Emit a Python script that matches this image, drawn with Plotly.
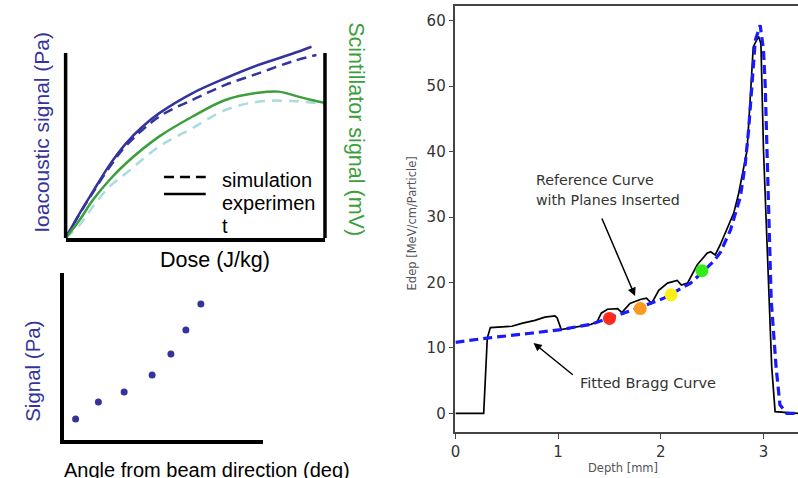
import plotly.graph_objects as go

W, H = 798, 478
def PX(p): return p / W
def PY(p): return 1 - p / H

# ---------------- data ----------------
# top-left: signal vs dose (arbitrary units)
ia_exp_dose = [0, 0.54, 1.05, 1.69, 2.33, 2.96, 3.60, 4.88, 6.16, 7.43, 8.71, 9.48]
ia_exp_sig = [0, 1.33, 2.49, 3.92, 5.09, 5.98, 6.70, 7.78, 8.59, 9.30, 9.89, 10.28]
ia_sim_dose = [0, 0.54, 1.05, 1.69, 2.33, 3.60, 4.88, 6.16, 7.43, 8.71, 9.67]
ia_sim_sig = [0, 1.29, 2.44, 3.80, 4.96, 6.52, 7.42, 8.23, 8.85, 9.48, 9.84]
sc_exp_dose = [0, 0.54, 1.05, 1.69, 2.33, 3.60, 4.88, 6.16, 7.43, 8.20, 8.97, 9.48, 9.99]
sc_exp_sig = [0, 0.97, 2.04, 3.12, 4.02, 5.45, 6.52, 7.42, 7.81, 7.87, 7.60, 7.42, 7.27]
sc_sim_dose = [0, 0.54, 1.05, 1.69, 2.33, 3.60, 4.88, 6.16, 7.43, 8.71, 9.99]
sc_sim_sig = [0, 0.70, 1.68, 2.76, 3.48, 4.91, 5.90, 6.88, 7.33, 7.37, 7.20]

# bottom-left: signal vs angle (arbitrary units)
angle = [0.60, 1.74, 3.03, 4.43, 5.37, 6.12, 6.87]
angle_sig = [1.26, 2.28, 2.87, 3.89, 5.15, 6.59, 8.14]

# right: Bragg curves
ref_depth = [0, 0.275, 0.31, 0.34, 0.55, 0.645, 0.774, 0.871, 0.968, 0.99, 1.03,
             1.16, 1.32, 1.38, 1.42, 1.48, 1.58, 1.62, 1.70, 1.80, 1.86, 1.91,
             1.98, 2.065, 2.16, 2.20, 2.26, 2.355, 2.45, 2.485, 2.53, 2.58,
             2.613, 2.71, 2.758, 2.806, 2.84, 2.87, 2.90, 2.952, 2.975, 3.0,
             3.055, 3.08, 3.113, 3.336]
ref_edep = [0, 0, 11.5, 13.1, 13.3, 13.75, 14.2, 14.7, 14.9, 14.6, 12.8,
            13.2, 13.6, 14.0, 15.3, 15.9, 16.0, 15.4, 16.8, 17.4, 17.6, 16.8,
            18.8, 19.9, 20.3, 19.6, 19.9, 22.7, 24.45, 24.7, 24.2, 25.8,
            27.0, 30.6, 33.6, 37.2, 40.2, 47.9, 56.0, 57.6, 56.5, 40.2,
            17.3, 7.1, 0.25, 0]
fit_depth = [0, 0.31, 0.71, 1.03, 1.32, 1.55, 1.80, 2.03, 2.29, 2.40, 2.52,
             2.58, 2.678, 2.775, 2.823, 2.855, 2.888, 2.92, 2.968, 3.0, 3.016,
             3.033, 3.075, 3.123, 3.16, 3.226, 3.336]
fit_edep = [10.85, 11.5, 12.2, 12.8, 13.6, 14.8, 16.2, 17.6, 19.9, 21.5, 23.3,
            24.6, 28.0, 33.1, 38.2, 43.3, 50.4, 57.0, 59.3, 55.5, 50.4,
            40.2, 17.3, 7.0, 1.3, 0, 0]
plane_depth = [1.50, 1.80, 2.10, 2.40]
plane_edep = [14.5, 16.0, 18.1, 21.8]
plane_colors = ["#ff2a1a", "#f89a1e", "#ffee14", "#33ee14"]

BLUE = "#34349c"
GREEN = "#3c9e3c"
LBLUE = "#aadcdc"
SANS = "Liberation Sans, Arial, sans-serif"
DV = "DejaVu Sans, sans-serif"

fig = go.Figure()

# top-left traces
fig.add_trace(go.Scatter(x=sc_sim_dose, y=sc_sim_sig, mode="lines", line=dict(color=LBLUE, width=2.5, dash="10px,7px", shape="spline"), xaxis="x", yaxis="y2", showlegend=False))
fig.add_trace(go.Scatter(x=sc_exp_dose, y=sc_exp_sig, mode="lines", line=dict(color=GREEN, width=2.5, shape="spline"), xaxis="x", yaxis="y2", showlegend=False))
fig.add_trace(go.Scatter(x=ia_sim_dose, y=ia_sim_sig, mode="lines", line=dict(color=BLUE, width=2.5, dash="10px,6px", shape="spline"), xaxis="x", yaxis="y", showlegend=False))
fig.add_trace(go.Scatter(x=ia_exp_dose, y=ia_exp_sig, mode="lines", line=dict(color=BLUE, width=2.5, shape="spline"), xaxis="x", yaxis="y", showlegend=False))

# bottom-left
fig.add_trace(go.Scatter(x=angle, y=angle_sig, mode="markers", marker=dict(color=BLUE, size=7), xaxis="x3", yaxis="y3", showlegend=False))

# right
fig.add_trace(go.Scatter(x=ref_depth, y=ref_edep, mode="lines", line=dict(color="black", width=1.7), xaxis="x4", yaxis="y4", showlegend=False))
fig.add_trace(go.Scatter(x=fit_depth, y=fit_edep, mode="lines", line=dict(color="#1a1aff", width=3.2, dash="9px,5px"), xaxis="x4", yaxis="y4", showlegend=False))
fig.add_trace(go.Scatter(x=plane_depth, y=plane_edep, mode="markers", marker=dict(color=plane_colors, size=13, line=dict(width=0)), xaxis="x4", yaxis="y4", showlegend=False))

noax = dict(showgrid=False, zeroline=False, showticklabels=False, ticks="")

top_top = 40
ytop = (238 - top_top) / 18.6
fig.update_layout(
    width=W, height=H, margin=dict(l=0, r=0, t=0, b=0),
    paper_bgcolor="white", plot_bgcolor="rgba(0,0,0,0)",
    xaxis=dict(domain=[PX(61), PX(322)], range=[0, 10], anchor="y", showline=True, linewidth=3.5, linecolor="black", **noax),
    yaxis=dict(domain=[PY(238), PY(top_top)], range=[0, ytop], anchor="x", showline=False, **noax),
    yaxis2=dict(overlaying="y", side="right", range=[0, ytop], anchor="x", showline=False, **noax),
    xaxis3=dict(domain=[PX(59), PX(260)], range=[0, 10], anchor="y3", showline=True, linewidth=3.5, linecolor="black", **noax),
    yaxis3=dict(domain=[PY(440), PY(273)], range=[0, 10], anchor="x3", showline=True, linewidth=3.5, linecolor="black", **noax),
    xaxis4=dict(domain=[PX(453.3), 1], range=[0, 3.336], anchor="y4", showline=True, mirror=True, linewidth=1.5, linecolor="#444",
                showgrid=False, zeroline=False, ticks="outside", ticklen=5, tickwidth=1.3, tickcolor="#444",
                tickvals=[0, 1, 2, 3], tickfont=dict(family=DV, size=15, color="#333")),
    yaxis4=dict(domain=[PY(432), PY(6)], range=[-2.858, 62.25], anchor="x4", showline=True, linewidth=1.5, linecolor="#444",
                showgrid=False, zeroline=False, ticks="outside", ticklen=5, tickwidth=1.3, tickcolor="#444",
                tickvals=[0, 10, 20, 30, 40, 50, 60], tickfont=dict(family=DV, size=15, color="#333")),
)

# frame verticals of top-left panel
for xd in (0, 1):
    fig.add_shape(type="line", xref="x domain", yref="y", x0=xd, x1=xd, y0=0, y1=(238 - 53) / 18.6, line=dict(color="black", width=3.5))

# legend keys (top-left)
fig.add_shape(type="line", xref="paper", yref="paper", x0=PX(160), x1=PX(202), y0=PY(177), y1=PY(177), line=dict(color="black", width=2.5, dash="10px,6px"))
fig.add_shape(type="line", xref="paper", yref="paper", x0=PX(160), x1=PX(202), y0=PY(194), y1=PY(194), line=dict(color="black", width=2.5))

def txt(text, x, y, size, color="black", family=SANS, angle=0, xanchor="center", yanchor="middle"):
    fig.add_annotation(text=text, x=PX(x), y=PY(y), xref="paper", yref="paper", showarrow=False,
                       font=dict(family=family, size=size, color=color), textangle=angle,
                       xanchor=xanchor, yanchor=yanchor)

txt("simulation", 216, 180, 20, xanchor="left")
txt("experimen", 216, 203, 20, xanchor="left")
txt("t", 216, 226, 20, xanchor="left")
txt("Ioacoustic signal (Pa)", 37, 132, 21, color=BLUE, angle=-90)
txt("Scintillator signal (mV)", 353, 129, 21.5, color=GREEN, angle=90)
txt("Dose (J/kg)", 211, 260, 21.5)
txt("Signal (Pa)", 27, 371, 20.5, color=BLUE, angle=-90)
txt("Angle from beam direction (deg)", 203, 470, 20)
txt("Edep [MeV/cm/Particle]", 410, 223, 11.5, color="#555", family=DV, angle=-90)
txt("Depth [mm]", 622, 468, 11.5, color="#555", family=DV)
txt("Reference Curve", 532, 180, 14.2, color="#333", family=DV, xanchor="left")
txt("with Planes Inserted", 532, 200, 14.2, color="#333", family=DV, xanchor="left")
txt("Fitted Bragg Curve", 577, 383, 14.5, color="#333", family=DV, xanchor="left")

# arrows
def arrow(hx, hy, tx, ty):
    fig.add_annotation(x=hx, y=hy, ax=tx, ay=ty, xref="x4", yref="y4", axref="x4", ayref="y4",
                       text="", showarrow=True, arrowhead=2, arrowsize=1.1, arrowwidth=1.5,
                       arrowcolor="black", startstandoff=0, standoff=0)

arrow(1.749, 17.93, 1.42, 30.0)
arrow(0.76, 10.76, 1.157, 5.7)

fig.write_html("out.html", config={"displayModeBar": False},
               post_script="document.body.style.margin='0';document.body.style.overflow='hidden';")
